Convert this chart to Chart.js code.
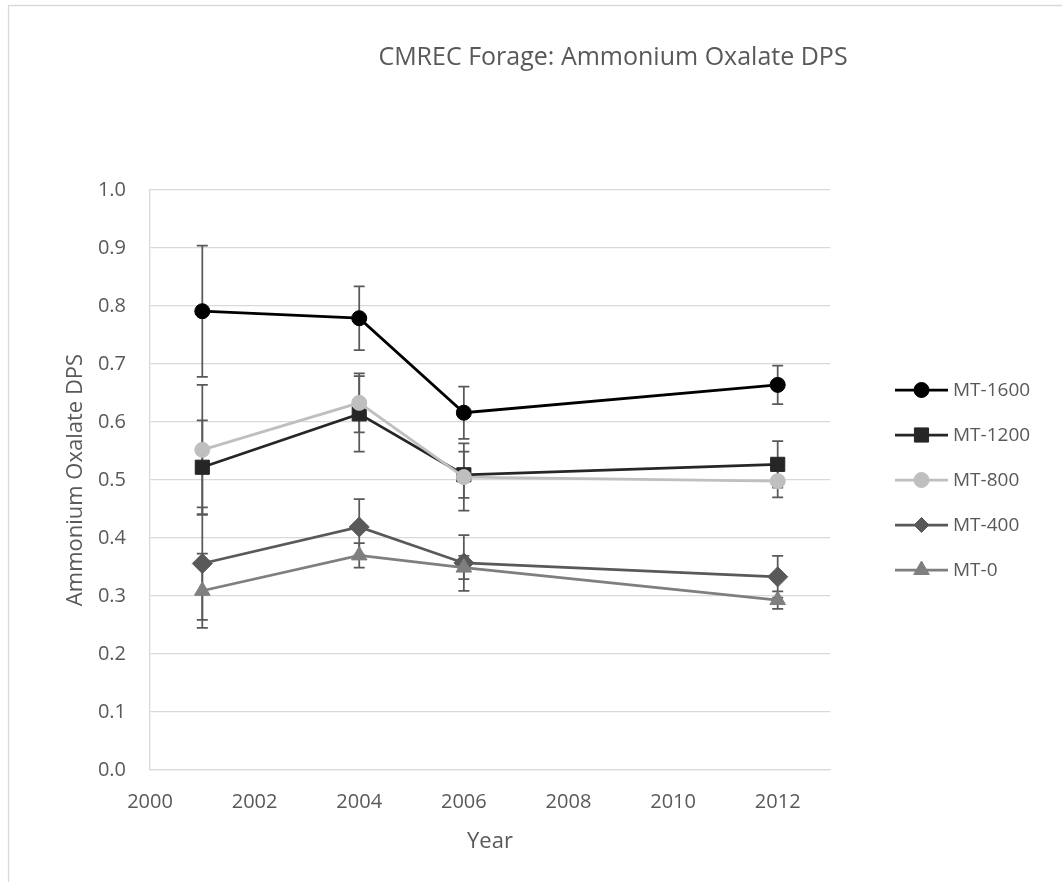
<!DOCTYPE html>
<html>
<head>
<meta charset="utf-8">
<title>CMREC Forage: Ammonium Oxalate DPS</title>
<script src="https://cdn.jsdelivr.net/npm/chart.js@4.4.1/dist/chart.umd.min.js"></script>
<style>
  html, body { margin: 0; padding: 0; background: #fff; }
</style>
</head>
<body>
<canvas id="chart" width="1062" height="882"></canvas>
<script>
// values
const years = [2001, 2004, 2006, 2012];
const seriesNames = ['MT-1600', 'MT-1200', 'MT-800', 'MT-400', 'MT-0'];
const mt1600 = [0.791, 0.779, 0.616, 0.664];
const mt1200 = [0.522, 0.614, 0.509, 0.527];
const mt800  = [0.552, 0.633, 0.505, 0.498];
const mt400  = [0.356, 0.419, 0.357, 0.333];
const mt0    = [0.309, 0.370, 0.349, 0.293];
// +/- error bars
const err1600 = [0.113, 0.055, 0.045, 0.033];
const err1200 = [0.081, 0.065, 0.040, 0.040];
const err800  = [0.112, 0.051, 0.058, 0.028];
const err400  = [0.097, 0.048, 0.048, 0.036];
const err0    = [0.064, 0.021, 0.020, 0.015];

const chartTitle = 'CMREC Forage: Ammonium Oxalate DPS';
const textColor = '#595959';
const gridColor = '#d9d9d9';
Chart.defaults.font.family = "'Open Sans', sans-serif";

const styles = [
  { color: '#000000', point: 'circle',   radius: 7.5, legendRadius: 7.5 },
  { color: '#262626', point: 'rect',     radius: 10,  legendRadius: 10 },
  { color: '#bfbfbf', point: 'circle',   radius: 7.5, legendRadius: 7.5 },
  { color: '#595959', point: 'rectRot',  radius: 10,  legendRadius: 7.5 },
  { color: '#7f7f7f', point: 'triangle', radius: 9,   legendRadius: 9 }
];
const values = [mt1600, mt1200, mt800, mt400, mt0];
const errors = [err1600, err1200, err800, err400, err0];

const datasets = seriesNames.map((name, i) => ({
  label: name,
  data: years.map((yr, j) => ({ x: yr, y: values[i][j] })),
  errors: errors[i],
  borderColor: styles[i].color,
  backgroundColor: styles[i].color,
  pointBackgroundColor: styles[i].color,
  pointBorderColor: styles[i].color,
  pointStyle: styles[i].point,
  pointRadius: styles[i].radius,
  pointBorderWidth: 1,
  borderWidth: 2.75,
  tension: 0,
  order: seriesNames.length - 1 - i
}));

// outer frame of the chart object + title (centred on the whole chart object, which runs past the right edge)
const framePlugin = {
  id: 'frame',
  beforeDraw(chart) {
    const ctx = chart.ctx;
    ctx.save();
    ctx.fillStyle = '#fff';
    ctx.fillRect(0, 0, chart.width, chart.height);
    ctx.strokeStyle = gridColor;
    ctx.lineWidth = 1.3;
    ctx.beginPath();
    ctx.moveTo(8.5, chart.height);
    ctx.lineTo(8.5, 5.5);
    ctx.lineTo(chart.width, 5.5);
    ctx.stroke();
    ctx.fillStyle = textColor;
    ctx.font = "25px 'Open Sans', sans-serif";
    ctx.textAlign = 'center';
    ctx.textBaseline = 'middle';
    ctx.fillText(chartTitle, 613, 58);
    ctx.restore();
  }
};

// vertical error bars, drawn under the lines and markers
const errorBarPlugin = {
  id: 'errorBars',
  beforeDatasetsDraw(chart) {
    const ctx = chart.ctx;
    const xs = chart.scales.x, ys = chart.scales.y;
    ctx.save();
    ctx.strokeStyle = '#595959';
    ctx.lineWidth = 1.75;
    chart.data.datasets.forEach(ds => {
      ds.data.forEach((p, j) => {
        const e = ds.errors[j];
        const px = xs.getPixelForValue(p.x);
        const top = ys.getPixelForValue(p.y + e);
        const bot = ys.getPixelForValue(p.y - e);
        ctx.beginPath();
        ctx.moveTo(px, top); ctx.lineTo(px, bot);
        ctx.moveTo(px - 5.5, top); ctx.lineTo(px + 5.5, top);
        ctx.moveTo(px - 5.5, bot); ctx.lineTo(px + 5.5, bot);
        ctx.stroke();
      });
    });
    ctx.restore();
  }
};

// Excel-style legend: short line with the marker in the middle
const legendPlugin = {
  id: 'lineLegend',
  afterDraw(chart) {
    const ctx = chart.ctx;
    const x0 = 895, x1 = 948, top = 390, step = 45;
    ctx.save();
    chart.data.datasets.forEach((ds, i) => {
      const y = top + i * step;
      ctx.strokeStyle = ds.borderColor;
      ctx.lineWidth = 2.75;
      ctx.beginPath();
      ctx.moveTo(x0, y); ctx.lineTo(x1, y);
      ctx.stroke();
      ctx.fillStyle = ds.borderColor;
      ctx.lineWidth = 1;
      Chart.helpers.drawPoint(ctx, {
        pointStyle: ds.pointStyle, radius: styles[i].legendRadius, rotation: 0, borderWidth: 1
      }, (x0 + x1) / 2, y);
      ctx.fillStyle = textColor;
      ctx.font = "19px 'Open Sans', sans-serif";
      ctx.textAlign = 'left';
      ctx.textBaseline = 'middle';
      ctx.fillText(ds.label, 953, y + 1);
    });
    ctx.restore();
  }
};

new Chart(document.getElementById('chart'), {
  type: 'line',
  data: { datasets },
  plugins: [framePlugin, errorBarPlugin, legendPlugin],
  options: {
    responsive: false,
    animation: false,
    events: [],
    layout: { padding: { left: 0, right: 232, top: 190, bottom: 0 } },
    plugins: {
      legend: { display: false },
      tooltip: { enabled: false },
      title: { display: false }
    },
    scales: {
      x: {
        type: 'linear',
        min: 2000,
        max: 2013,
        afterFit: s => { s.height = 112; },
        grid: { display: false, drawTicks: false },
        border: { color: gridColor, width: 1.3 },
        ticks: {
          stepSize: 2,
          includeBounds: false,
          color: textColor,
          font: { size: 20 },
          padding: 20,
          callback: v => String(v)
        },
        title: {
          display: true,
          text: 'Year',
          color: textColor,
          font: { size: 22 },
          padding: { top: 0, bottom: 27 }
        }
      },
      y: {
        min: 0,
        max: 1,
        afterFit: s => { s.width = 150; },
        grid: { color: gridColor, lineWidth: 1.3, drawTicks: false },
        border: { color: gridColor, width: 1.3 },
        ticks: {
          stepSize: 0.1,
          color: textColor,
          font: { size: 20 },
          padding: 24,
          callback: v => v.toFixed(1)
        },
        title: {
          display: true,
          text: 'Ammonium Oxalate DPS',
          color: textColor,
          font: { size: 22 },
          padding: { top: 63, bottom: 0 }
        }
      }
    }
  }
});
</script>
</body>
</html>
